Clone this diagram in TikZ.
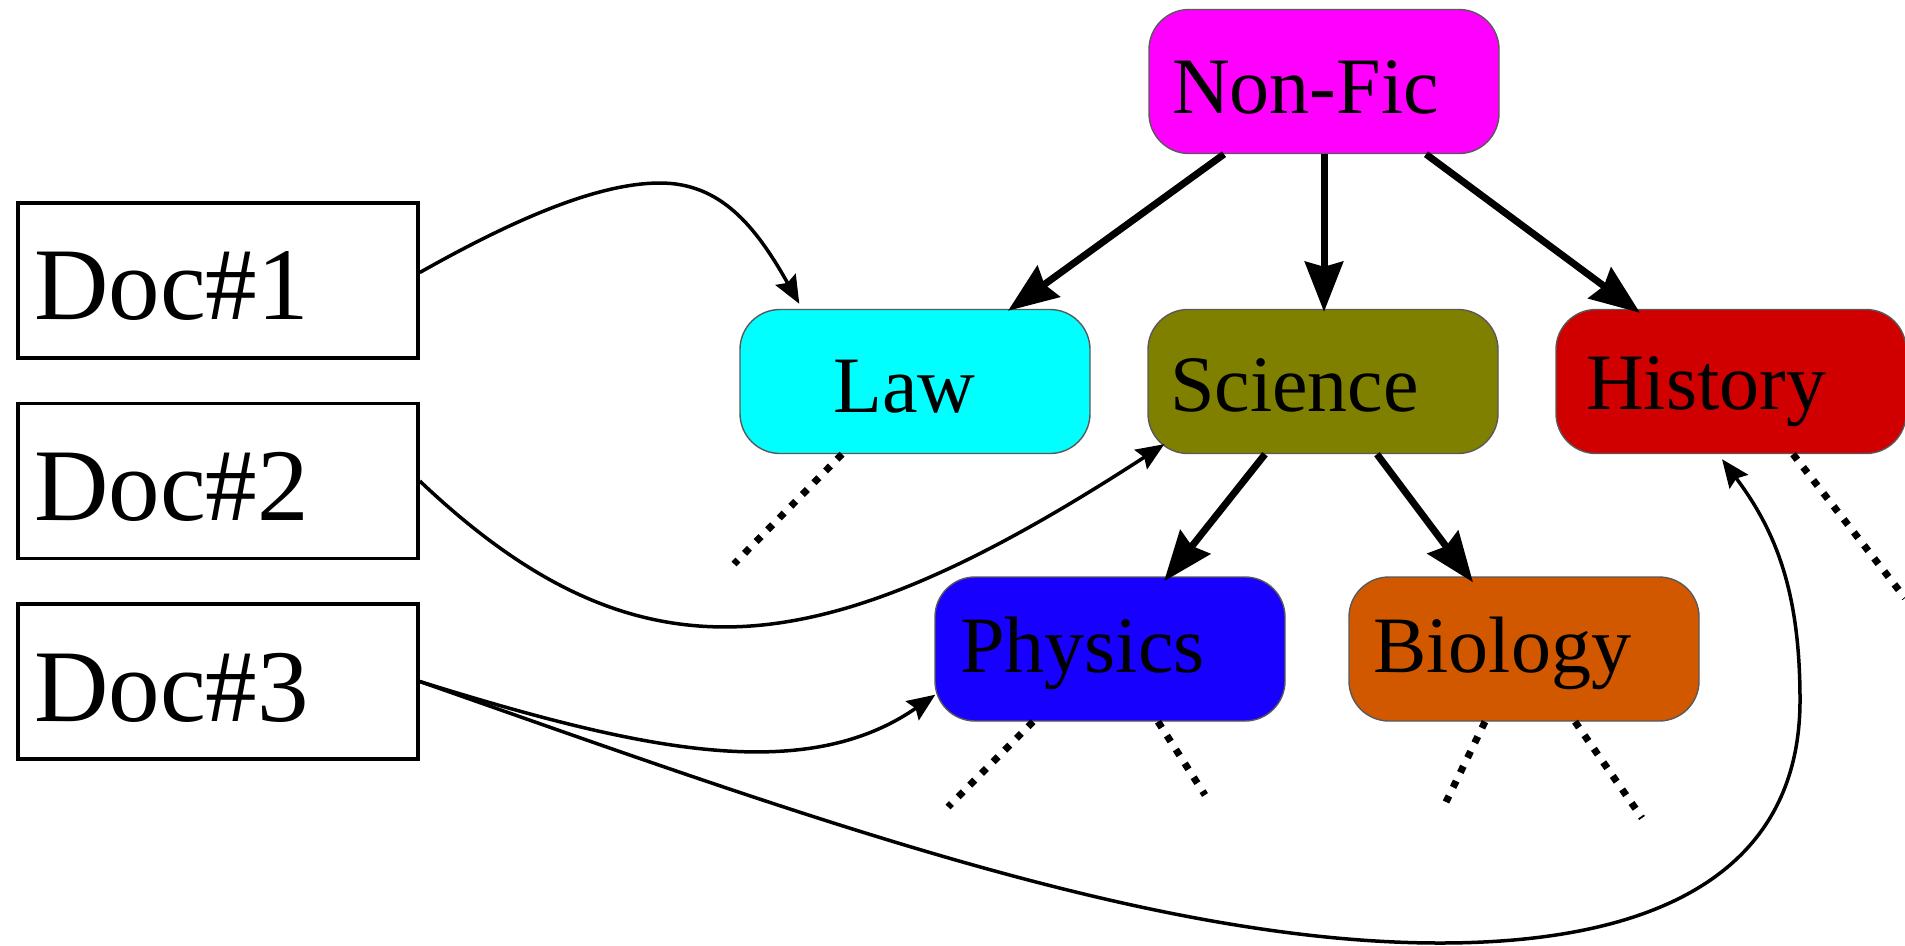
\documentclass[tikz,border=0pt]{standalone}
\usepackage{fontspec}
\setmainfont{Liberation Serif}
\usetikzlibrary{arrows.meta,calc}
\definecolor{cNonFic}{RGB}{255,0,255}
\definecolor{cLaw}{RGB}{0,255,255}
\definecolor{cSci}{RGB}{128,128,0}
\definecolor{cHist}{RGB}{208,0,0}
\definecolor{cPhys}{RGB}{24,0,255}
\definecolor{cBio}{RGB}{210,88,0}
\begin{document}
\begin{tikzpicture}[x=1pt,y=-1pt,
  cat/.style={draw=black!65, line width=1.4pt, rounded corners=40pt, minimum width=350pt, minimum height=144pt, inner sep=0pt},
  doc/.style={draw=black, line width=3.6pt, fill=white, minimum width=400pt, minimum height=155pt, inner sep=0pt},
  ctext/.style={anchor=base west, inner sep=0pt, font=\fontsize{80}{96}\selectfont},
  dtext/.style={anchor=base west, inner sep=0pt, font=\fontsize{103}{120}\selectfont},
  tree/.style={line width=7pt, -{Stealth[length=50pt,width=38pt,inset=5pt]}},
  link/.style={line width=3.5pt, -{Stealth[length=28pt,width=23pt,inset=4pt]}},
  dots/.style={line width=7pt, dash pattern=on 7pt off 9.5pt}]
\useasboundingbox (0,0) rectangle (1905,945);

% category boxes
\node[cat, fill=cNonFic] (nonfic)  at (1324,81.5) {};
\node[cat, fill=cLaw]    (law)     at (915,381.5) {};
\node[cat, fill=cSci]    (science) at (1323,381.5) {};
\node[cat, fill=cHist]   (history) at (1731,381.5) {};
\node[cat, fill=cPhys]   (physics) at (1110,649) {};
\node[cat, fill=cBio]    (biology) at (1524,649) {};

\node[ctext] (nonficT)  at (1172,113) {Non-Fic};
\node[ctext] (lawT)     at (833,412) {Law};
\node[ctext] (scienceT) at (1170,411) {Science};
\node[ctext] (historyT) at (1586,409) {History};
\node[ctext] (physicsT) at (960,672) {Physics};
\node[ctext] (biologyT) at (1373,672) {Biology};

% document boxes
\node[doc] (doc1) at (218,280.5) {};
\node[doc] (doc2) at (218,481) {};
\node[doc] (doc3) at (218,681.5) {};
\node[dtext] (doc1T) at (34,319) {Doc\#1};
\node[dtext] (doc2T) at (34,520) {Doc\#2};
\node[dtext] (doc3T) at (34,721) {Doc\#3};

% tree edges
\draw[tree] ([xshift=-100pt]nonfic.south) -- ($(law.north)+(93,2)$);
\draw[tree] (nonfic.south) -- ($(science.north)+(1,3)$);
\draw[tree] ([xshift=102pt]nonfic.south) -- ($(history.north)+(-91,4)$);
\draw[tree] ([xshift=-58pt]science.south) -- ($(physics.north)+(54,5)$);
\draw[tree] ([xshift=54pt]science.south) -- ($(biology.north)+(-51,6)$);

% dotted stubs
\coordinate (lawL)  at (734,564);
\coordinate (phyL)  at (948,807);
\coordinate (phyR)  at (1205,795);
\coordinate (bioL)  at (1446,802);
\coordinate (bioR)  at (1642,818);
\coordinate (hisR)  at (1905,598);
\draw[dots] ([xshift=-73pt]law.south) -- (lawL);
\draw[dots] ([xshift=-77pt]physics.south) -- (phyL);
\draw[dots] ([xshift=48pt]physics.south) -- (phyR);
\draw[dots] ([xshift=-39pt]biology.south) -- (bioL);
\draw[dots] ([xshift=51pt]biology.south) -- (bioR);
\draw[dots] ([xshift=62pt]history.south) -- (hisR);

% document links
\draw[link] ([yshift=8pt]doc1.east) .. controls (518,217) and (600,183) .. (660,183)
  .. controls (720,183) and (755,225) .. ($(law.north west)+(60,-5)$);
\draw[link] (doc2.east) .. controls (640,690) and (820,668) .. ($(science.south west)+(17,-10)$);
\draw[link] (doc3.east) .. controls (643,751) and (805,785) .. ($(physics.south west)+(1,-27)$);
\draw[link] (doc3.east) .. controls (800,815) and (1150,943) .. (1440,943)
  .. controls (1660,943) and (1800,870) .. (1800,700)
  .. controls (1800,590) and (1775,530) .. ($(history.south)+(-9,5)$);
\end{tikzpicture}
\end{document}
